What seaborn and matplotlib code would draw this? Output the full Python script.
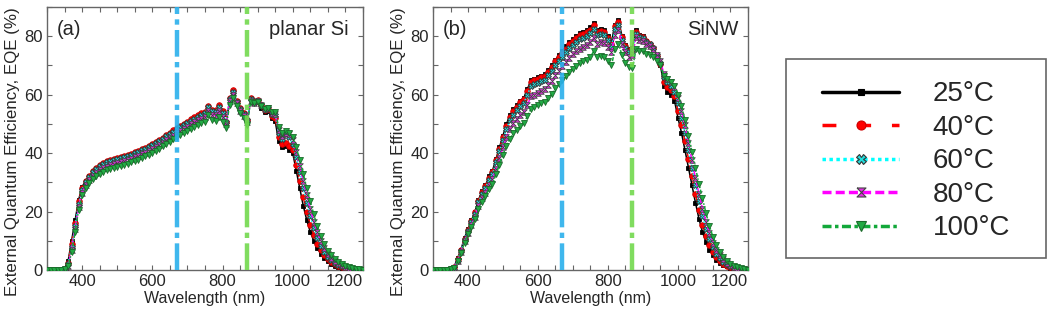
#EQE spectra of planar Si and SiNW cells at five temperatures
#Two panels + a separate legend box on the right

import seaborn as sns
import matplotlib.pyplot as plt
import pandas as pd
from matplotlib.lines import Line2D
from matplotlib.patches import Rectangle
from matplotlib.ticker import MultipleLocator

#Step 1: data (EQE in %, every 10 nm from 300 to 1200 nm)
wavelength = list(range(300, 1201, 10))
temps = ["25°C", "40°C", "60°C", "80°C", "100°C"]

planar_25 = [0, 0, 0, 0, 0, 0.5, 3, 10, 17, 24,
             28.5, 30.5, 32, 33.5, 34.5, 35.5, 36, 36.5, 37, 37.3,
             37.6, 38, 38.3, 38.7, 39, 39.5, 40, 40.5, 41, 41.7,
             42.3, 43, 43.7, 44.5, 45.3, 46, 47, 47.8, 48.6, 49.3,
             50, 50.8, 51.5, 52.2, 52.8, 53.5, 55.5, 54, 54, 55.5,
             53.5, 50, 58, 60, 57, 54.5, 53, 51, 58, 57,
             57.5, 55.5, 54, 54.5, 52, 51, 44, 42, 42.5, 41,
             40, 34, 28, 22, 17, 13, 10, 7.5, 5.5, 4,
             3, 2.2, 1.5, 1, 0.7, 0.5, 0.3, 0.2, 0.1, 0.05,
             0]
planar_40 = [0, 0, 0, 0, 0, 0.4, 2.5, 9, 16, 23.5,
             28, 30.5, 32.2, 33.8, 35, 36, 36.7, 37.2, 37.6, 38,
             38.3, 38.7, 39, 39.4, 39.8, 40.3, 40.8, 41.3, 41.9, 42.5,
             43.1, 43.8, 44.5, 45.3, 46.1, 46.9, 47.8, 48.6, 49.4, 50.1,
             50.8, 51.6, 52.3, 53, 53.6, 54.2, 56.2, 54.8, 54.7, 56.3,
             54.3, 50.8, 59, 61.5, 58, 55.3, 53.6, 51.5, 58.8, 57.8,
             58.2, 56.3, 54.8, 55.2, 52.8, 52, 45.5, 43, 43.5, 42.5,
             41, 36, 30.5, 25, 20, 15.5, 12, 9, 6.8, 5,
             3.7, 2.7, 2, 1.4, 1, 0.7, 0.5, 0.3, 0.2, 0.1,
             0]
planar_60 = [0, 0, 0, 0, 0, 0.3, 2, 8, 15, 22.5,
             27.5, 30, 31.8, 33.4, 34.6, 35.6, 36.3, 36.8, 37.2, 37.6,
             37.9, 38.3, 38.6, 39, 39.4, 39.9, 40.4, 40.9, 41.5, 42.1,
             42.7, 43.4, 44.1, 44.9, 45.7, 46.5, 47.3, 48.1, 48.9, 49.6,
             50.3, 51.1, 51.8, 52.5, 53.1, 53.7, 55.7, 54.3, 54.2, 55.8,
             53.8, 50.5, 58.5, 60.8, 57.6, 55, 53.3, 51.3, 58.5, 57.6,
             58, 56.3, 55, 55.5, 53.5, 53, 47, 45, 46.5, 45.5,
             43, 38.5, 33.5, 28, 23, 18.5, 14.5, 11, 8.3, 6.2,
             4.6, 3.4, 2.5, 1.8, 1.3, 0.9, 0.6, 0.4, 0.2, 0.1,
             0]
planar_80 = [0, 0, 0, 0, 0, 0.2, 1.5, 7, 14, 21.5,
             26.5, 29, 30.8, 32.2, 33.3, 34.2, 34.9, 35.4, 35.8, 36.2,
             36.5, 36.9, 37.3, 37.7, 38.1, 38.6, 39.1, 39.6, 40.2, 40.8,
             41.4, 42.1, 42.8, 43.6, 44.4, 45.2, 46, 46.8, 47.6, 48.3,
             49, 49.8, 50.5, 51.2, 51.8, 52.4, 54.3, 53, 52.9, 54.5,
             52.5, 49.8, 57.8, 60, 57, 54.5, 52.8, 50.8, 58, 57.3,
             57.8, 56.3, 55, 55.5, 53.8, 53.5, 48, 46, 47, 46.5,
             44.5, 40.5, 35.5, 30.5, 25.5, 21, 16.5, 13, 10, 7.5,
             5.6, 4.2, 3.1, 2.3, 1.6, 1.1, 0.8, 0.5, 0.3, 0.15,
             0]
planar_100 = [0, 0, 0, 0, 0, 0.2, 1.2, 6, 13, 20.5,
              25.5, 28, 29.8, 31.1, 32.1, 33, 33.6, 34.1, 34.5, 34.9,
              35.2, 35.6, 36, 36.4, 36.8, 37.3, 37.8, 38.3, 38.9, 39.5,
              40.1, 40.8, 41.5, 42.3, 43.1, 43.9, 44.7, 45.4, 46.1, 46.8,
              47.5, 48.2, 48.9, 49.6, 50.2, 50.8, 53, 51.3, 51, 52.5,
              50.8, 48.5, 56.5, 59, 56.2, 53.8, 52, 49.5, 57.5, 57,
              57.5, 56.2, 55, 55.5, 54, 54, 49, 47, 47.5, 47,
              45.5, 42, 37.5, 33, 28, 23.5, 19, 15, 11.5, 8.8,
              6.6, 5, 3.7, 2.7, 1.9, 1.3, 0.9, 0.6, 0.35, 0.2,
              0]

sinw_25 = [0, 0, 0, 0, 0, 0.3, 1, 4, 7, 11,
           14, 17, 20, 24, 27, 29, 32, 34, 38, 42,
           46, 50, 53, 55, 56.5, 58, 59, 62, 65, 65.5,
           66, 66.5, 67, 68.5, 70, 72, 73.5, 75, 76.5, 78,
           79, 80, 81, 81.5, 82, 83, 84.5, 82, 82.5, 82,
           80, 78, 84, 85.5, 80, 77, 75.5, 76, 82, 80.5,
           80, 78.5, 77.5, 76, 73, 70, 63, 61, 60, 58,
           52, 47, 41, 35, 29, 23, 17.5, 13, 9.5, 7,
           5, 3.5, 2.5, 1.7, 1.2, 0.8, 0.5, 0.3, 0.2, 0.1,
           0]
sinw_40 = [0, 0, 0, 0, 0, 0.3, 0.9, 3.7, 6.8, 10.7,
           13.7, 16.7, 19.7, 23.6, 26.6, 28.7, 31.6, 33.7, 37.6, 41.5,
           45.5, 49.4, 52.4, 54.4, 55.9, 57.4, 58.4, 61.3, 64.3, 64.9,
           65.4, 65.9, 66.4, 67.9, 69.4, 71.4, 72.9, 74.4, 75.8, 77.3,
           78.3, 79.3, 80.3, 80.8, 81.3, 82.3, 83.8, 81.4, 81.9, 81.5,
           79.5, 77.5, 83.5, 85, 79.6, 76.6, 75, 75.5, 81.6, 80.2,
           79.8, 78.4, 77.4, 76, 73.2, 70.5, 64.5, 62.5, 61.5, 59.5,
           54.5, 49.5, 44, 38, 32, 26, 20.5, 15.5, 11.5, 8.5,
           6.2, 4.4, 3.2, 2.2, 1.5, 1, 0.7, 0.4, 0.25, 0.1,
           0]
sinw_60 = [0, 0, 0, 0, 0, 0.3, 0.8, 3.5, 6.6, 10.4,
           13.4, 16.3, 19.3, 23.1, 26, 28, 30.9, 32.9, 36.8, 40.6,
           44.5, 48.3, 51.2, 53.2, 54.7, 56.2, 57.2, 60, 63, 63.6,
           64.1, 64.6, 65.1, 66.6, 68.1, 70, 71.5, 73, 74.5, 76,
           77, 78, 79, 79.5, 80, 81, 82.5, 80.3, 80.8, 80.5,
           78.6, 76.7, 82.5, 84, 78.8, 76, 74.5, 75, 80.8, 79.6,
           79.3, 78, 77.2, 76, 73.5, 71, 66, 64.5, 63, 61,
           57, 52, 47, 41, 35, 29, 23.5, 18.5, 14, 10.5,
           7.7, 5.5, 4, 2.8, 1.9, 1.3, 0.9, 0.5, 0.3, 0.15,
           0]
sinw_80 = [0, 0, 0, 0, 0, 0.2, 0.7, 3.2, 6.2, 9.8,
           12.8, 15.5, 18.3, 21.9, 24.6, 26.5, 29.2, 31.1, 34.7, 38.3,
           42, 45.6, 48.3, 50.2, 51.6, 53, 54, 56.6, 59.4, 60,
           60.6, 61.2, 61.8, 63.3, 64.8, 66.7, 68.2, 69.7, 71.2, 72.7,
           73.8, 74.8, 75.8, 76.4, 77, 78, 79.5, 77.5, 78, 77.8,
           76.2, 74.5, 80.5, 82.2, 77.2, 74.6, 73, 73.6, 79.6, 78.6,
           78.4, 77.3, 76.7, 75.7, 73.5, 71.5, 67, 65.5, 64.5, 62.5,
           59, 54.5, 49.5, 43.5, 37.5, 31.5, 26, 21, 16.5, 12.5,
           9.3, 6.8, 5, 3.6, 2.5, 1.7, 1.1, 0.7, 0.4, 0.2,
           0]
sinw_100 = [0, 0, 0, 0, 0, 0.2, 0.6, 3, 5.8, 9.3,
            12.2, 14.8, 17.5, 20.8, 23.4, 25.2, 27.7, 29.5, 32.8, 36,
            39.5, 42.5, 45, 46.8, 48, 49.3, 50.3, 52.7, 55.2, 55.8,
            56.4, 57, 57.6, 59, 60.4, 62.2, 63.6, 65, 66.4, 67.8,
            68.8, 69.8, 70.8, 71.4, 72, 73, 75, 73, 73.2, 73,
            71.5, 70, 75.5, 77.5, 73.5, 71, 69.5, 69, 75.5, 74.8,
            74.8, 74, 73.6, 73, 71.5, 70, 66.5, 65.5, 64.5, 63,
            60, 56, 51.5, 46, 40.5, 35, 29.5, 24.5, 19.5, 15,
            11.3, 8.4, 6.2, 4.5, 3.2, 2.2, 1.5, 1, 0.6, 0.3,
            0]

laser_lines = [670, 870]
laser_colors = ["#2ab0ec", "#72d94e"]
x_ticks = [400, 600, 800, 1000, 1200]

#Step 2: line styles per temperature
hourglass = [(-1, 1), (1, 1), (-1, -1), (1, -1), (-1, 1)]
styles = {
    "25°C": dict(color="black", marker="s", mfc="black", mec="black", dash=None, ms=3.4),
    "40°C": dict(color="red", marker="o", mfc="red", mec="#cc0000", dash=(0, (4, 6)), ms=4.0),
    "60°C": dict(color="cyan", marker="X", mfc="#22dddd", mec="#333333", dash=(0, (1, 1)), ms=4.2),
    "80°C": dict(color="magenta", marker=hourglass, mfc="#e030e0", mec="#444444", dash=(0, (2.6, 1.2)), ms=4.0),
    "100°C": dict(color="#12a83a", marker="v", mfc="#22aa44", mec="#1a6a2a", dash=(0, (2.6, 1, 1, 1)), ms=4.2),
}

sns.set_style("ticks")
plt.rcParams["font.family"] = ["Liberation Sans", "DejaVu Sans"]
plt.rcParams["xtick.direction"] = "in"
plt.rcParams["ytick.direction"] = "in"
plt.rcParams["xtick.top"] = True
plt.rcParams["ytick.right"] = True

fig = plt.figure(figsize=(10.52, 3.16), dpi=100)
ax_a = fig.add_axes([0.0447, 0.1456, 0.3003, 0.8322])
ax_b = fig.add_axes([0.4116, 0.1456, 0.2994, 0.8322])

panels = [
    (ax_a, [planar_25, planar_40, planar_60, planar_80, planar_100], "(a)", "planar Si", 0.955),
    (ax_b, [sinw_25, sinw_40, sinw_60, sinw_80, sinw_100], "(b)", "SiNW", 0.97),
]

for ax, series, tag, name, name_x in panels:
    for t, vals in zip(temps, series):
        st = styles[t]
        df = pd.DataFrame({"Wavelength": wavelength, "EQE": vals})
        ls = st["dash"] if st["dash"] is not None else "-"
        sns.lineplot(x="Wavelength", y="EQE", data=df, ax=ax, color=st["color"],
                     linestyle=ls, lw=1.1, marker=st["marker"], markersize=st["ms"],
                     markerfacecolor=st["mfc"], markeredgecolor=st["mec"],
                     markeredgewidth=0.6, zorder=3)
    for wl, c in zip(laser_lines, laser_colors):
        ax.axvline(wl, color=c, lw=3.2, ls=(0, (6, 1.2, 1.2, 1.2)), alpha=0.9, zorder=4)
    ax.set_xlim(300, 1200)
    ax.set_ylim(0, 90)
    ax.set_xticks(x_ticks)
    ax.xaxis.set_minor_locator(MultipleLocator(50))
    ax.yaxis.set_major_locator(MultipleLocator(20))
    ax.yaxis.set_minor_locator(MultipleLocator(10))
    ax.tick_params(which="both", length=3.5, width=0.8, color="#666666", labelsize=12, pad=3)
    for s in ax.spines.values():
        s.set_color("#666666")
        s.set_linewidth(1.0)
    ax.set_xlabel("Wavelength (nm)", fontsize=11.5, labelpad=1)
    ax.set_ylabel("External Quantum Efficiency, EQE (%)", fontsize=12.2)
    ax.yaxis.set_label_coords(-0.085, 0.45)
    ax.text(0.03, 0.915, tag, transform=ax.transAxes, fontsize=14.5, va="center", ha="left")
    ax.text(name_x, 0.915, name, transform=ax.transAxes, fontsize=14.5, va="center", ha="right")
    ax.xaxis.get_major_ticks()[-1].label1.set_horizontalalignment("right")
    ax.grid(False)

#Step 3: legend in its own box
handles = []
for t in temps:
    st = styles[t]
    ls = st["dash"] if st["dash"] is not None else "-"
    handles.append(Line2D([], [], color=st["color"], lw=2.5, ls=ls, marker=st["marker"],
                          ms=6.5 if t != "25°C" else 5, mfc=st["mfc"], mec=st["mec"], mew=0.8))
fig.legend(handles, temps, loc="center", bbox_to_anchor=(916 / 1052, 1 - 161.5 / 316),
           frameon=False, fontsize=20, handlelength=2.8, handletextpad=1.2,
           labelspacing=0.27, borderpad=0, numpoints=1)
fig.patches.append(Rectangle((786 / 1052, 1 - 258 / 316), 260 / 1052, 199 / 316,
                             transform=fig.transFigure, fill=False, edgecolor="#666666", lw=1.2))

plt.savefig("out.png", dpi=100)
